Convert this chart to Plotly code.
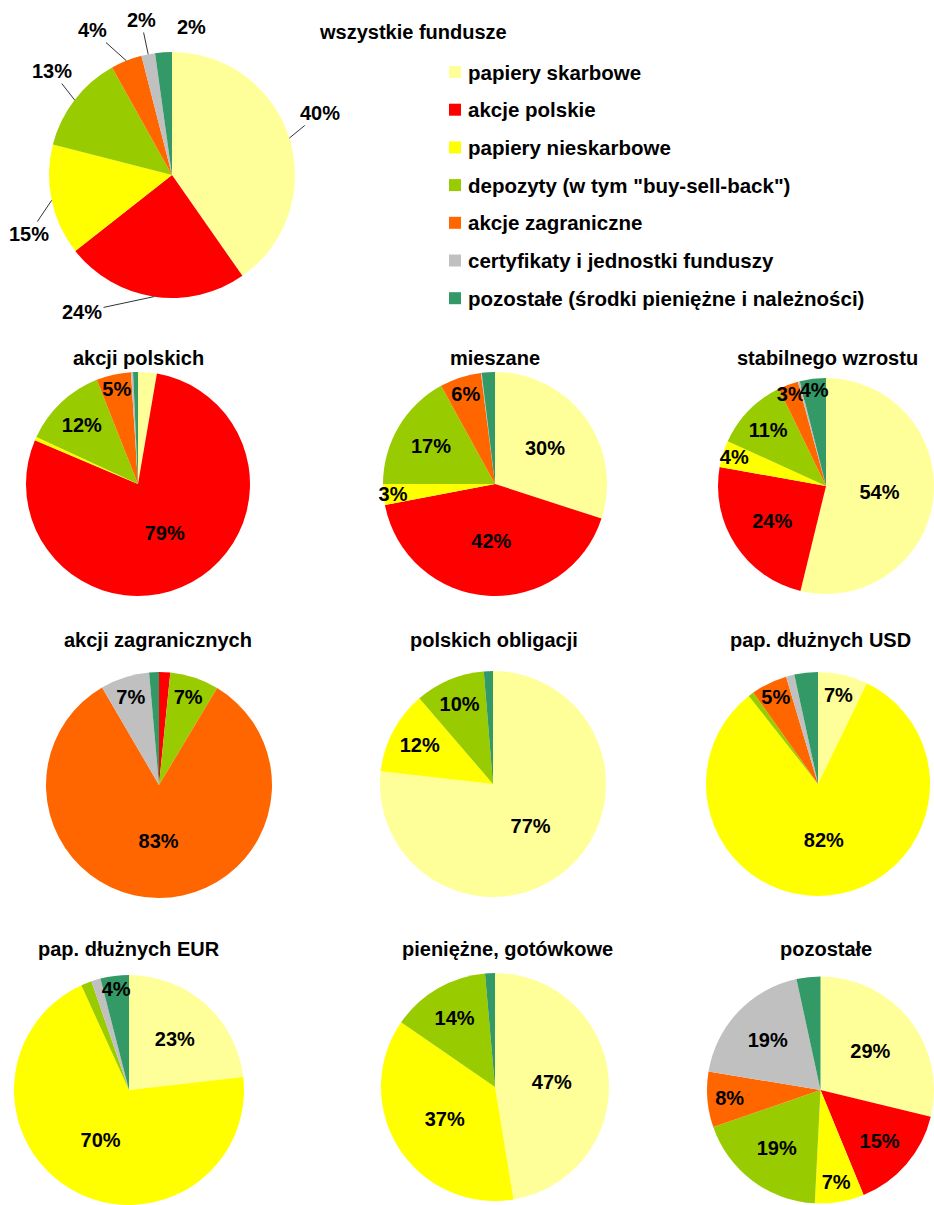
import math
import plotly.graph_objects as go

W, H = 934, 1205
FONT = "Liberation Sans, Arial, sans-serif"

categories = [
    "papiery skarbowe",
    "akcje polskie",
    "papiery nieskarbowe",
    'depozyty (w tym "buy-sell-back")',
    "akcje zagraniczne",
    "certyfikaty i jednostki funduszy",
    "pozostałe (środki pieniężne i należności)",
]
colors = ["#FFFF99", "#FF0000", "#FFFF00", "#99CC00", "#FF6600", "#C0C0C0", "#339966"]

titles = [
    "wszystkie fundusze",
    "akcji polskich", "mieszane", "stabilnego wzrostu",
    "akcji zagranicznych", "polskich obligacji", "pap. dłużnych USD",
    "pap. dłużnych EUR", "pieniężne, gotówkowe", "pozostałe",
]

v_wszystkie = [40.3, 24.1, 14.6, 12.9, 4.1, 1.8, 2.2]
v_akcji_polskich = [2.7, 78.7, 0.5, 12.1, 5.0, 0.3, 0.7]
v_mieszane = [30.0, 42.0, 3.0, 17.0, 6.0, 0.1, 1.9]
v_stabilnego = [53.8, 24.0, 4.0, 11.0, 3.0, 0.3, 3.9]
v_akcji_zagr = [0.0, 1.6, 0.0, 7.0, 83.0, 7.0, 1.4]
v_obligacji = [76.8, 0.0, 11.9, 10.0, 0.0, 0.0, 1.3]
v_usd = [7.2, 0.0, 82.2, 0.8, 5.2, 1.2, 3.4]
v_eur = [23.2, 0.0, 70.0, 1.5, 0.0, 1.3, 4.0]
v_pieniezne = [47.4, 0.0, 37.2, 14.0, 0.0, 0.0, 1.4]
v_pozostale = [28.8, 15.0, 7.0, 18.9, 7.9, 19.0, 3.4]

t_wszystkie = ["40%", "24%", "15%", "13%", "4%", "2%", "2%"]
t_akcji_polskich = ["", "79%", "", "12%", "5%", "", ""]
t_mieszane = ["30%", "42%", "3%", "17%", "6%", "", ""]
t_stabilnego = ["54%", "24%", "4%", "11%", "3%", "", "4%"]
t_akcji_zagr = ["", "", "", "7%", "83%", "7%", ""]
t_obligacji = ["77%", "", "12%", "10%", "", "", ""]
t_usd = ["7%", "", "82%", "", "5%", "", ""]
t_eur = ["23%", "", "70%", "", "", "", "4%"]
t_pieniezne = ["47%", "", "37%", "14%", "", "", ""]
t_pozostale = ["29%", "15%", "7%", "19%", "8%", "19%", ""]

values = [v_wszystkie, v_akcji_polskich, v_mieszane, v_stabilnego, v_akcji_zagr,
          v_obligacji, v_usd, v_eur, v_pieniezne, v_pozostale]
texts = [t_wszystkie, t_akcji_polskich, t_mieszane, t_stabilnego, t_akcji_zagr,
         t_obligacji, t_usd, t_eur, t_pieniezne, t_pozostale]

# layout geometry in pixels: (center x, center y, radius), title (x, y)
geom = [
    (172, 175, 123), (138, 484, 112), (495, 484, 112), (826, 486, 108),
    (159, 785, 113), (493, 784, 113), (818, 784, 112),
    (129, 1090, 115), (495, 1087, 114), (821, 1090, 114),
]
title_pos = [
    (413, 32), (138, 358), (495, 358), (827, 358),
    (158, 640), (494, 640), (820, 640),
    (129, 949), (507, 949), (826, 949),
]
# label centres (pixels) of the outside labels of the main pie
main_label_pos = [(320, 113), (82, 312), (29, 234), (52, 71), (92, 30), (141, 20), (191, 27)]
main_label_leader = [True, True, True, True, True, True, False]

fig = go.Figure()
for i, (vals, txt) in enumerate(zip(values, texts)):
    cx, cy, r = geom[i]
    main = (i == 0)
    fig.add_trace(go.Pie(
        labels=categories,
        values=vals,
        text=txt,
        textinfo="none" if main else "text",
        texttemplate=None if main else "<b>%{text}</b>",
        textposition="inside",
        insidetextorientation="horizontal",
        textfont=dict(family=FONT, size=20, color="black"),
        marker=dict(colors=colors, line=dict(width=0)),
        sort=False,
        direction="clockwise",
        rotation=0,
        showlegend=False,
        hoverinfo="label+percent",
        domain=dict(x=[max(0, (cx - r) / W), min(1, (cx + r) / W)],
                    y=[max(0, (H - cy - r) / H), min(1, (H - cy + r) / H)]),
    ))

annotations = []
for t, (x, y) in zip(titles, title_pos):
    annotations.append(dict(
        text="<b>%s</b>" % t, x=x / W, y=1 - y / H, xref="paper", yref="paper",
        xanchor="center", yanchor="middle", showarrow=False,
        font=dict(family=FONT, size=20, color="black"),
    ))

# outside labels of the main pie with leader lines from the slice edge
cx, cy, r = geom[0]
total = sum(v_wszystkie)
cum = 0.0
for v, t, (lx, ly), lead in zip(v_wszystkie, t_wszystkie, main_label_pos, main_label_leader):
    mid = (cum + v / 2) / total * 2 * math.pi
    cum += v
    tx = cx + r * math.sin(mid)
    ty = cy - r * math.cos(mid)
    if lead:
        annotations.append(dict(
            text="<b>%s</b>" % t, x=tx / W, y=1 - ty / H, xref="paper", yref="paper",
            ax=lx - tx, ay=ly - ty, showarrow=True, arrowhead=0, arrowwidth=1,
            arrowcolor="#333333", standoff=0,
            font=dict(family=FONT, size=20, color="black"),
        ))
    else:
        annotations.append(dict(
            text="<b>%s</b>" % t, x=lx / W, y=1 - ly / H, xref="paper", yref="paper",
            xanchor="center", yanchor="middle", showarrow=False,
            font=dict(family=FONT, size=20, color="black"),
        ))

# manual legend
shapes = []
leg_x, leg_y0, leg_dy = 449, 72, 37.7
for k, (cat, col) in enumerate(zip(categories, colors)):
    yc = leg_y0 + k * leg_dy
    shapes.append(dict(type="rect", xref="paper", yref="paper",
                       x0=leg_x / W, x1=(leg_x + 12) / W,
                       y0=1 - (yc + 6) / H, y1=1 - (yc - 6) / H,
                       fillcolor=col, line=dict(width=0)))
    annotations.append(dict(
        text="<b>%s</b>" % cat, x=(leg_x + 17) / W, y=1 - yc / H,
        xref="paper", yref="paper", xanchor="left", yanchor="middle",
        showarrow=False, font=dict(family=FONT, size=20.5, color="black"),
    ))

fig.update_layout(
    width=W, height=H,
    margin=dict(l=0, r=0, t=0, b=0),
    paper_bgcolor="white", plot_bgcolor="white",
    annotations=annotations, shapes=shapes,
    uniformtext=dict(minsize=20, mode="show"),
    font=dict(family=FONT),
)

post = ("document.body.style.margin='0';"
        "var d=document.getElementById('{plot_id}');"
        "d.style.position='absolute';d.style.left='0px';d.style.top='0px';")
fig.write_html("out.html", post_script=post, config={"displayModeBar": False})
